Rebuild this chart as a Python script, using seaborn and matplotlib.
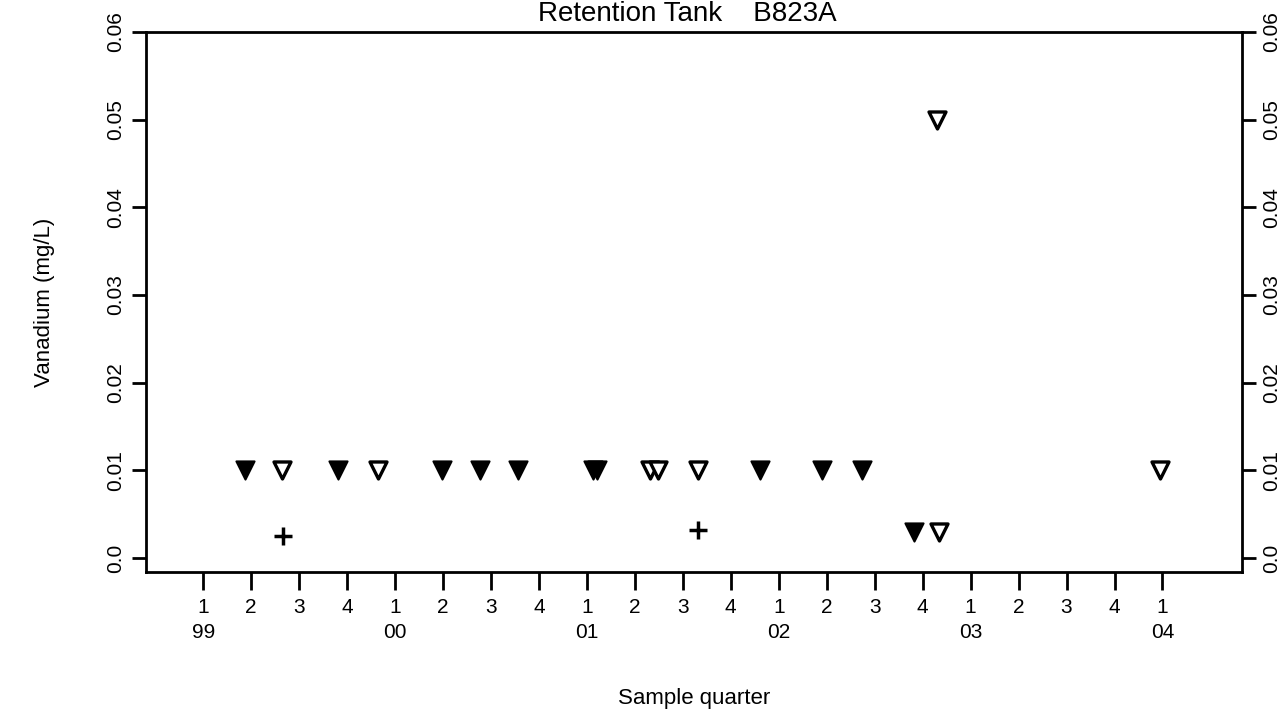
import matplotlib
matplotlib.use("Agg")
import matplotlib.pyplot as plt
import seaborn as sns
import pandas as pd

# ======================================
# Datos (trimestres desde 1999 T1 = 0)
# ======================================
filled_q = [0.875, 2.81, 4.98, 5.77, 6.56, 8.12, 8.22, 11.60, 12.90, 13.73, 14.83]
filled_v = [0.01, 0.01, 0.01, 0.01, 0.01, 0.01, 0.01, 0.01, 0.01, 0.01, 0.003]

open_q = [1.65, 3.65, 9.31, 9.48, 10.31, 15.29, 15.35, 19.94]
open_v = [0.01, 0.01, 0.01, 0.01, 0.01, 0.05, 0.003, 0.01]

plus_q = [1.67, 10.31]
plus_v = [0.0025, 0.0032]

quarter_labels = ["1", "2", "3", "4"] * 5 + ["1"]
year_labels = ["99", "00", "01", "02", "03", "04"]
y_ticks = [0.0, 0.01, 0.02, 0.03, 0.04, 0.05, 0.06]
y_tick_labels = ["0.0", "0.01", "0.02", "0.03", "0.04", "0.05", "0.06"]

# ======================================
# Estilo
# ======================================
sns.set_style("white")
plt.rcParams["font.family"] = ["Liberation Sans", "DejaVu Sans"]
plt.rcParams["text.color"] = "black"
plt.rcParams["axes.labelcolor"] = "black"

fig = plt.figure(figsize=(12.88, 7.15), dpi=100)
ax = fig.add_axes([0.1134, 0.2, 0.8506, 0.7552])

df_filled = pd.DataFrame({"q": filled_q, "v": filled_v})
df_open = pd.DataFrame({"q": open_q, "v": open_v})
df_plus = pd.DataFrame({"q": plus_q, "v": plus_v})

sns.scatterplot(data=df_filled, x="q", y="v", ax=ax, marker="v", s=170,
                color="black", edgecolor="black", linewidth=1.5, zorder=3)
sns.scatterplot(data=df_open, x="q", y="v", ax=ax, marker="v", s=150,
                facecolor="white", edgecolor="black", linewidth=2.4, zorder=3)
sns.scatterplot(data=df_plus, x="q", y="v", ax=ax, marker="+", s=180,
                color="black", linewidth=2.5, zorder=3)

# ======================================
# Ejes
# ======================================
ax.set_xlim(-1.19, 21.65)
ax.set_ylim(-0.0016, 0.06)

xt = list(range(len(quarter_labels)))
xt_labels = []
year_i = 0
for i, lab in enumerate(quarter_labels):
    if i % 4 == 0:
        xt_labels.append(lab + "\n" + year_labels[year_i])
        year_i += 1
    else:
        xt_labels.append(lab)
ax.set_xticks(xt)
ax.set_xticklabels(xt_labels, fontsize=15, linespacing=1.35)

ax.set_yticks(y_ticks)
ax.set_yticklabels(y_tick_labels, fontsize=15, rotation=90, va="center")

ax.tick_params(axis="x", direction="out", length=13, width=2, pad=6,
               bottom=True, colors="black")
ax.tick_params(axis="y", direction="out", length=10, width=2, pad=5,
               left=True, right=True, labelleft=True, labelright=True,
               colors="black")
for lab in ax.get_yticklabels(which="both"):
    lab.set_rotation(90)
    lab.set_va("center")

for sp in ax.spines.values():
    sp.set_visible(True)
    sp.set_color("black")
    sp.set_linewidth(2)

ax.set_xlabel("Sample quarter", fontsize=16, color="black")
ax.set_ylabel("Vanadium (mg/L)", fontsize=16, color="black")
ax.xaxis.set_label_coords(0.5, -0.215)
ax.yaxis.set_label_coords(-0.083, 0.5)

fig.text(0.534, 0.999, "Retention Tank    B823A", fontsize=20,
         ha="center", va="top", color="black")

fig.savefig("out.png", dpi=100, facecolor="white")
